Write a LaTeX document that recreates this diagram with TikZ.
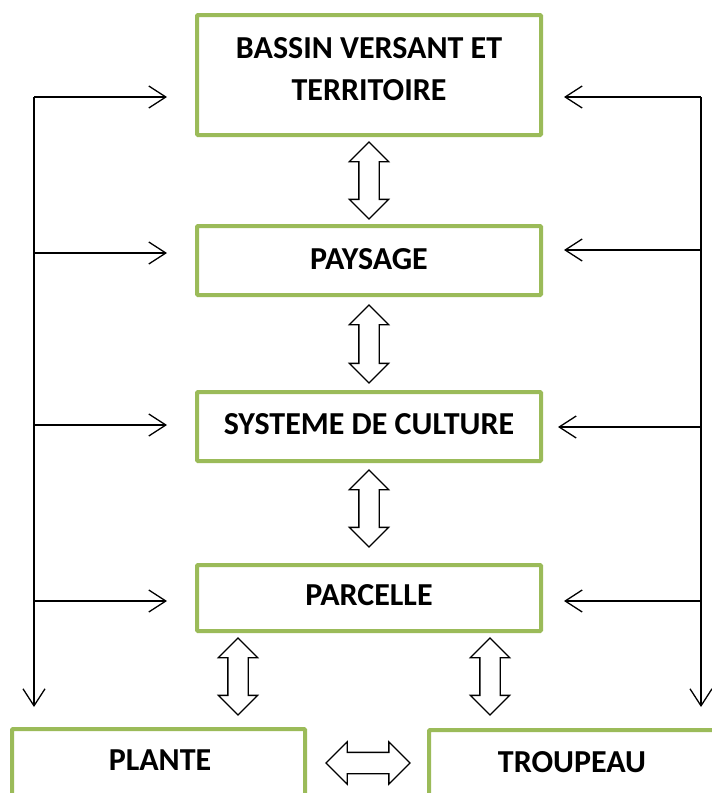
\documentclass[tikz,border=0pt]{standalone}
\usepackage{fontspec}
\setmainfont{Carlito}
\usetikzlibrary{arrows.meta,shapes.arrows}
\definecolor{boxgreen}{HTML}{9BBB59}
\begin{document}
\begin{tikzpicture}[x=1pt,y=-1pt,
 levelbox/.style={rectangle,draw=boxgreen,line width=4pt,rounded corners=1pt,minimum width=344pt,inner sep=0pt},
 lbl/.style={font=\bfseries\fontsize{32}{42}\selectfont,align=center,inner sep=0pt,text=black},
 dbl/.style={double arrow,draw=black,line width=1.3pt,fill=white,minimum width=0pt,inner xsep=0pt,inner ysep=9.5pt,double arrow head extend=9.5pt,double arrow tip angle=90},
 link/.style={line width=1.3pt,-{Straight Barb[length=17pt,width=22pt]}}]
\useasboundingbox (0,0) rectangle (712,793);
\clip (0,0) rectangle (712,793);
% boxes
\node[levelbox,minimum height=120pt] (bv) at (369,75) {};
\node[levelbox,minimum height=69pt] (pay) at (369,260.5) {};
\node[levelbox,minimum height=69pt] (sys) at (369,426.5) {};
\node[levelbox,minimum height=66pt] (par) at (369,598) {};
\node[levelbox,minimum width=293pt,minimum height=101pt] (pl) at (158.5,779.5) {};
\node[levelbox,minimum width=331pt,minimum height=101pt] (tr) at (594.5,780.5) {};
% labels
\node[lbl] (tbv) at (369,69) {BASSIN VERSANT ET\\TERRITOIRE};
\node[lbl,anchor=base] (tpay) at (369,269) {PAYSAGE};
\node[lbl,anchor=base] (tsys) at (369,434) {SYSTEME DE CULTURE};
\node[lbl,anchor=base] (tpar) at (369,605) {PARCELLE};
\node[lbl,anchor=base] (tpl) at (160,770) {PLANTE};
\node[lbl,anchor=base] (ttr) at (572,772) {TROUPEAU};
% double arrows
\node[dbl,rotate=90,minimum height=77pt] (d1) at (369,180.5) {};
\node[dbl,rotate=90,minimum height=78pt] (d2) at (369,344) {};
\node[dbl,rotate=90,minimum height=77pt] (d3) at (369,508.5) {};
\node[dbl,rotate=90,minimum height=77pt] (d4) at (238,676.5) {};
\node[dbl,rotate=90,minimum height=77pt] (d5) at (490,676.5) {};
\node[dbl,minimum height=84pt,inner ysep=10pt,double arrow head extend=10.5pt] (d6) at (368,763) {};
% left rail
\coordinate (lt) at (34,97);
\coordinate (lb) at (34,707);
\coordinate (l2) at (34,253);
\coordinate (l3) at (34,425);
\coordinate (l4) at (34,601);
\coordinate (la1) at (167,97);
\coordinate (la2) at (167,253);
\coordinate (la3) at (167,425);
\coordinate (la4) at (167,601);
\draw[link] (lt) -- (lb);
\draw[link] (lt) -- (la1);
\draw[link] (l2) -- (la2);
\draw[link] (l3) -- (la3);
\draw[link] (l4) -- (la4);
% right rail
\coordinate (rt) at (701,97);
\coordinate (rb) at (701,707);
\coordinate (r2) at (701,250);
\coordinate (r3) at (701,427);
\coordinate (r4) at (701,601);
\coordinate (ra1) at (564,97);
\coordinate (ra2) at (564,250);
\coordinate (ra3) at (558,427);
\coordinate (ra4) at (564,601);
\draw[link] (rt) -- (rb);
\draw[link] (rt) -- (ra1);
\draw[link] (r2) -- (ra2);
\draw[link] (r3) -- (ra3);
\draw[link] (r4) -- (ra4);
\end{tikzpicture}
\end{document}
